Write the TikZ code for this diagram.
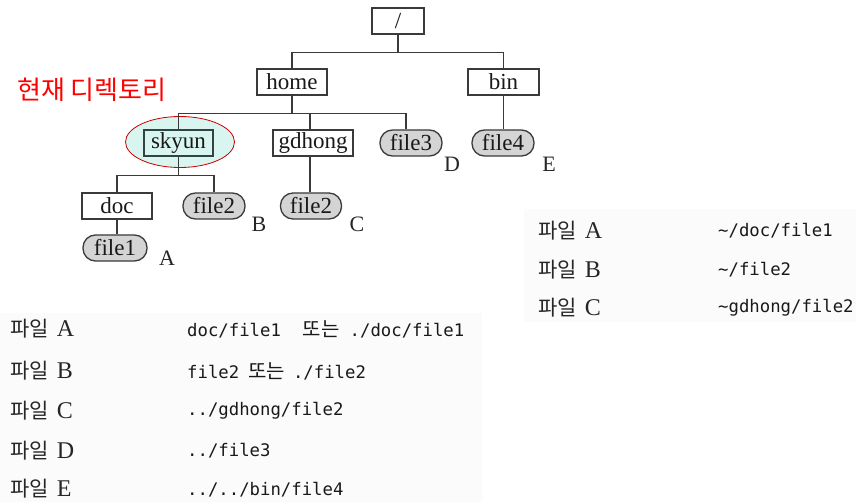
\documentclass[tikz,border=0pt]{standalone}
\usepackage{fontspec}
\setmainfont{Liberation Serif}
\newfontfamily\krfont{Noto Sans CJK KR}
\newfontfamily\codefont{DejaVu Sans Mono}
\usetikzlibrary{calc,shapes.geometric}
\definecolor{curdir}{HTML}{D8F6EF}
\definecolor{ink}{HTML}{3A3A3A}
\definecolor{panel}{HTML}{FBFBFB}
\begin{document}
\begin{tikzpicture}[x=1pt,y=-1pt,
  treefont/.style={font=\fontsize{23}{25}\selectfont},
  dirbox/.style={treefont,draw=ink,line width=1.3pt,fill=white,minimum height=26pt,inner sep=0pt,text=black!90},
  filebox/.style={treefont,draw=ink,line width=1.3pt,fill=black!17,rounded corners=12.5pt,minimum height=26pt,inner sep=0pt,text=black!90},
  wire/.style={draw=ink,line width=1.3pt},
  tag/.style={font=\fontsize{22}{24}\selectfont,text=black!85},
  rowlabel/.style={anchor=west,inner sep=0pt,text=black!85,font=\fontsize{21}{24}\selectfont},
  rowcode/.style={anchor=west,inner sep=0pt,text=black!90,font=\codefont\fontsize{17.3}{20}\selectfont}]
\useasboundingbox (0,0) rectangle (856,502);
\fill[white] (0,0) rectangle (856,502);
% faint panels behind the two path tables
\fill[panel] (0,313) rectangle (482,502);
\fill[panel] (524,209) rectangle (856,322);

% highlighted current directory
\node[draw=red!80!black,line width=0.8pt,fill=curdir,ellipse,minimum width=109pt,minimum height=51pt,inner sep=0pt] (cur) at (180,142) {};

% directory tree
\node[dirbox,minimum width=52pt] (root) at (398,21) {/};
\node[dirbox,minimum width=70pt] (home) at (292,82) {home};
\node[dirbox,minimum width=71pt] (bin) at (503.5,82) {bin};
\node[dirbox,minimum width=69pt,fill=curdir,draw=ink!85!teal] (skyun) at (178.5,143) {skyun};
\node[dirbox,minimum width=80pt] (gdhong) at (313,143) {gdhong};
\node[filebox,minimum width=62pt] (file3) at (411,143) {file3};
\node[filebox,minimum width=62pt] (file4) at (503,143) {file4};
\node[dirbox,minimum width=70pt] (doc) at (117,206) {doc};
\node[filebox,minimum width=62pt] (file2b) at (214,206) {file2};
\node[filebox,minimum width=61pt] (file2c) at (311,206) {file2};
\node[filebox,minimum width=64pt] (file1) at (115,248) {file1};

% connectors
\draw[wire] (root.south) -- ++(0,18) -| (home.north);
\draw[wire] (root.south) -- ++(0,18) -| (bin.north);
\draw[wire] (home.south) -- ++(0,18) -| (skyun.north);
\draw[wire] (home.south) -- ++(0,18) -| ([xshift=-3pt]gdhong.north);
\draw[wire] (home.south) -- ++(0,18) -| ([xshift=-5pt]file3.north);
\draw[wire] (bin.south) -- (bin.south |- file4.north);
\draw[wire] (skyun.south) -- ++(0,19) -| (doc.north);
\draw[wire] (skyun.south) -- ++(0,19) -| (file2b.north);
\draw[wire] ([xshift=-3pt]gdhong.south) -- ([xshift=-3pt]gdhong.south |- file2c.north);
\draw[wire] (doc.south) -- (doc.south |- file1.north);

% file markers
\node[tag] (la) at (167,258) {A};
\node[tag] (lb) at (259,224) {B};
\node[tag] (lc) at (357,224) {C};
\node[tag] (ld) at (452,164) {D};
\node[tag] (le) at (549,164) {E};

% caption for the current directory
\node[text=red,font=\krfont\fontsize{26}{28}\selectfont] (caption) at (92,90) {현재 디렉토리};

% relative paths
\node[rowlabel] (ra) at (10,329) {{\krfont 파일}\hspace{8pt}{\fontsize{24}{26}\selectfont A}};
\node[rowlabel] (rb) at (10,371) {{\krfont 파일}\hspace{8pt}{\fontsize{24}{26}\selectfont B}};
\node[rowlabel] (rc) at (10,411) {{\krfont 파일}\hspace{8pt}{\fontsize{24}{26}\selectfont C}};
\node[rowlabel] (rd) at (10,451) {{\krfont 파일}\hspace{8pt}{\fontsize{24}{26}\selectfont D}};
\node[rowlabel] (re) at (10,489) {{\krfont 파일}\hspace{8pt}{\fontsize{24}{26}\selectfont E}};
\node[rowcode] (pa) at (187,329) {doc/file1\hspace{22pt}{\krfont\fontsize{20}{22}\selectfont 또는}\hspace{10pt}./doc/file1};
\node[rowcode] (pb) at (187,371) {file2\hspace{9pt}{\krfont\fontsize{20}{22}\selectfont 또는}\hspace{8pt}./file2};
\node[rowcode] (pc) at (187,411) {../gdhong/file2};
\node[rowcode] (pd) at (187,451) {../file3};
\node[rowcode] (pe) at (187,490) {../../bin/file4};

% paths from the home directory
\node[rowlabel] (ha) at (538,231) {{\krfont 파일}\hspace{8pt}{\fontsize{24}{26}\selectfont A}};
\node[rowlabel] (hb) at (538,270) {{\krfont 파일}\hspace{8pt}{\fontsize{24}{26}\selectfont B}};
\node[rowlabel] (hc) at (538,308) {{\krfont 파일}\hspace{8pt}{\fontsize{24}{26}\selectfont C}};
\node[rowcode] (qa) at (718,231) {\textasciitilde/doc/file1};
\node[rowcode] (qb) at (718,270) {\textasciitilde/file2};
\node[rowcode] (qc) at (718,308) {\textasciitilde gdhong/file2};
\end{tikzpicture}
\end{document}
